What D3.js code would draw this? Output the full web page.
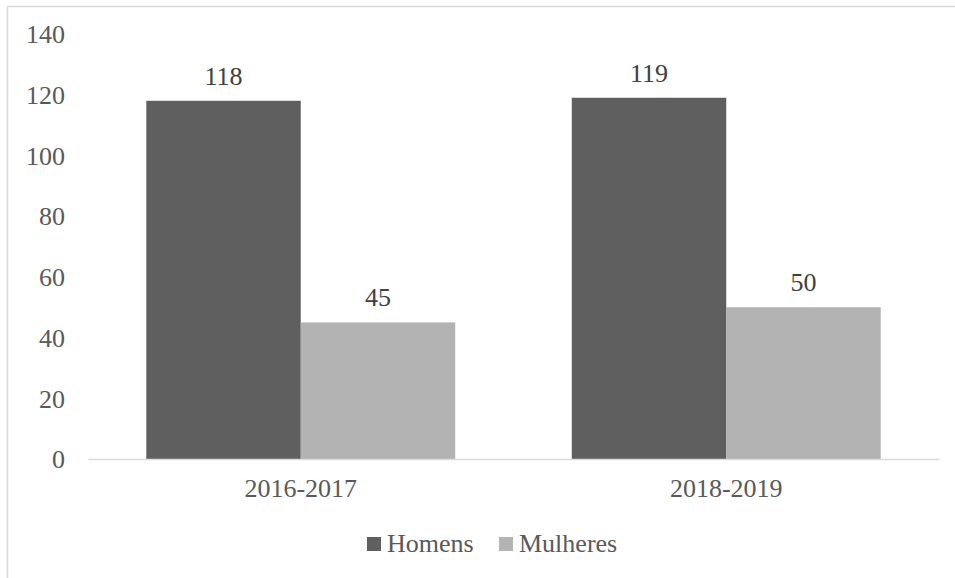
<!DOCTYPE html>
<html><head><meta charset="utf-8">
<script src="https://cdn.jsdelivr.net/npm/d3@7"></script>
<style>body{margin:0;background:#fff}svg{display:block}</style>
</head><body>
<svg id="chart" width="955" height="578"></svg>
<script>
const categories = ["2016-2017", "2018-2019"];
const seriesNames = ["Homens", "Mulheres"];
const homens = [118, 119];
const mulheres = [45, 50];
const yTicks = [0, 20, 40, 60, 80, 100, 120, 140];
const colors = ["#5f5f5f", "#b3b3b3"];

(function () {
const svg = d3.select("#chart");
const textColor = "#595959";
const FF = '"Liberation Serif"';
const FS = "26px";

// outer border
svg.append("rect").attr("x", 7.5).attr("y", 6.5).attr("width", 1000).attr("height", 700)
  .attr("fill", "#fff").attr("stroke", "#d9d9d9").attr("stroke-width", 1.5);

const pLeft = 88, pRight = 939, pTop = 34, pBottom = 459;
const x0 = d3.scaleBand().domain(categories).range([pLeft, pRight]).paddingInner(0.274).paddingOuter(0.137);
const x1 = d3.scaleBand().domain(seriesNames).range([0, x0.bandwidth()]);
const y = d3.scaleLinear().domain([0, 140]).range([pBottom, pTop]);

// y tick labels
const yAxis = d3.axisLeft(y).tickValues(yTicks).tickSize(0).tickPadding(0);
const gy = svg.append("g").attr("transform", `translate(${pLeft - 23},0)`).call(yAxis);
gy.select(".domain").remove();
gy.selectAll("text").style("font-family", FF).style("font-size", FS)
  .attr("fill", textColor).attr("dy", "0.34em");

const data = categories.map((c, i) => ({cat: c, vals: [homens[i], mulheres[i]]}));
const groups = svg.append("g").selectAll("g").data(data).join("g")
  .attr("transform", d => `translate(${x0(d.cat)},0)`);
groups.selectAll("rect").data(d => d.vals.map((v, j) => ({name: seriesNames[j], v, j})))
  .join("rect")
  .attr("x", d => x1(d.name)).attr("width", x1.bandwidth())
  .attr("y", d => y(d.v)).attr("height", d => y(0) - y(d.v))
  .attr("fill", d => colors[d.j]);
groups.selectAll("text").data(d => d.vals.map((v, j) => ({name: seriesNames[j], v, j})))
  .join("text")
  .attr("x", d => x1(d.name) + x1.bandwidth() / 2).attr("y", d => y(d.v) - 16)
  .attr("text-anchor", "middle").style("font-family", FF).style("font-size", FS)
  .attr("fill", "#404040").text(d => d.v);

// x axis
const xAxis = d3.axisBottom(x0).tickSize(0).tickPadding(0);
const gx = svg.append("g").attr("transform", `translate(0,${pBottom})`).call(xAxis);
gx.select(".domain").attr("stroke", "#d9d9d9").attr("stroke-width", 1.5);
gx.selectAll("text").style("font-family", FF).style("font-size", FS).attr("fill", textColor)
  .attr("dy", null).attr("y", 38);

// legend
const legendItems = [{name: "Homens", x: 367}, {name: "Mulheres", x: 499}];
const lg = svg.append("g").selectAll("g").data(legendItems).join("g")
  .attr("transform", d => `translate(${d.x},537)`);
lg.append("rect").attr("width", 14).attr("height", 14).attr("fill", (d, i) => colors[i]);
lg.append("text").attr("x", 20).attr("y", 15).style("font-family", FF).style("font-size", FS)
  .attr("fill", textColor).text(d => d.name);
})();
</script>
</body></html>
